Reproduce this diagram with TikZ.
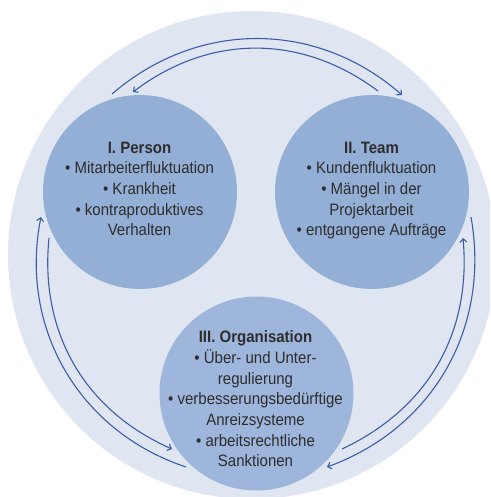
\documentclass[tikz,border=0pt]{standalone}
\usepackage{fontspec}
\setmainfont[FakeStretch=0.91]{Liberation Sans}
\usetikzlibrary{arrows.meta}
\definecolor{bgc}{RGB}{223,230,242}
\definecolor{cic}{RGB}{148,175,214}
\definecolor{cio}{RGB}{158,182,219}
\definecolor{arrowblue}{RGB}{62,92,165}
\definecolor{txtc}{RGB}{45,45,45}
\begin{document}
\begin{tikzpicture}[x=1pt,y=-1pt,
  field/.style={circle, inner sep=0pt, minimum size=194pt, draw=none},
  lbl/.style={align=center, anchor=north, inner sep=0pt, text=txtc, font=\fontsize{16.5}{20.7}\selectfont},
  link/.style={draw=arrowblue, line width=1.1pt, -{Straight Barb[length=3.5pt,width=7pt]}}]
\useasboundingbox (0,0) rectangle (490,497);
\clip (0,0) rectangle (490,497);
\node[circle, fill=bgc, minimum size=488pt, inner sep=0pt] (bg) at (252,255) {};
\node[field, fill=cic] (person) at (140,192) {};
\node[field, fill=cic] (team) at (372,192) {};
\node[field, fill=cio] (org) at (256.5,393.5) {};
\node[lbl] (persontxt) at (139.5,141.5) {\textbf{I. Person}\\• Mitarbeiterfluktuation\\• Krankheit\\• kontraproduktives\\Verhalten};
\node[lbl] (teamtxt) at (371.5,141.5) {\textbf{II. Team}\\• Kundenfluktuation\\• Mängel in der\\Projektarbeit\\• entgangene Aufträge};
\node[lbl] (orgtxt) at (255.5,330.5) {\textbf{III. Organisation}\\• Über- und Unter-\\regulierung\\• verbesserungsbedürftige\\Anreizsysteme\\• arbeitsrechtliche\\Sanktionen};
% connector end points
\coordinate (pt1) at (112,94);
\coordinate (tm1) at (402,95);
\coordinate (tm2) at (378,91);
\coordinate (pt2) at (133,92);
\coordinate (tm3) at (471,217);
\coordinate (og1) at (327,467);
\coordinate (og2) at (342,449);
\coordinate (tm4) at (463,238);
\coordinate (og3) at (186,467);
\coordinate (pt3) at (41,217);
\coordinate (pt4) at (49,238);
\coordinate (og4) at (172,449);
\draw[link] (pt1) to[bend left=41] (tm1);
\draw[link] (tm2) to[bend right=37] (pt2);
\draw[link] (tm3) to[bend left=40] (og1);
\draw[link] (og2) to[bend right=35] (tm4);
\draw[link] (og3) to[bend left=41.5] (pt3);
\draw[link] (pt4) to[bend right=36] (og4);
\end{tikzpicture}
\end{document}
